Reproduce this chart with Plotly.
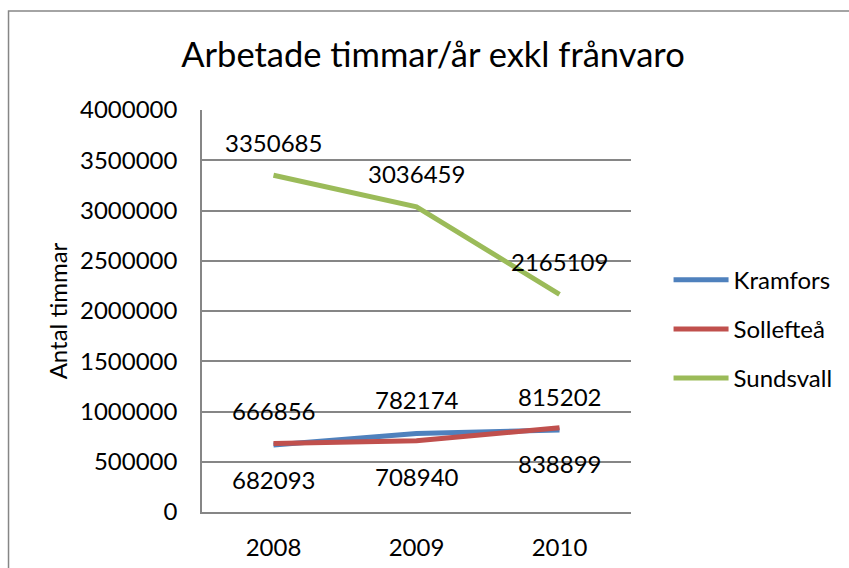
import plotly.graph_objects as go

# data
years = ["2008", "2009", "2010"]
kramfors = [666856, 782174, 815202]
solleftea = [682093, 708940, 838899]
sundsvall = [3350685, 3036459, 2165109]

series = [
    ("Kramfors", kramfors, "#4F81BD", 34),
    ("Sollefteå", solleftea, "#C0504D", -36),
    ("Sundsvall", sundsvall, "#9BBB59", 33),
]

FONT = "Lato"

fig = go.Figure()
annotations = []
for name, vals, color, shift in series:
    fig.add_trace(go.Scatter(
        name=name, x=years, y=vals, mode="lines",
        line=dict(color=color, width=5),
        legendgroup=name,
    ))
    # data labels above / below each point (category index as x)
    for i, v in enumerate(vals):
        annotations.append(dict(
            x=i, y=v, xref="x", yref="y", text=str(v), showarrow=False, yshift=shift,
            font=dict(family=FONT, size=24, color="black"),
        ))

# outer chart border
fig.add_shape(type="rect", xref="paper", yref="paper",
              x0=-0.451, x1=1.53, y0=-0.2, y1=1.2463,
              line=dict(color="#868686", width=1.5), layer="below")

fig.update_layout(
    width=849, height=568,
    margin=dict(l=202, r=217, t=110, b=56),
    paper_bgcolor="white", plot_bgcolor="white",
    title=dict(text="Arbetade timmar/år exkl frånvaro", x=0.51, xanchor="center",
               y=0.903, yanchor="middle",
               font=dict(family=FONT, size=34.5, color="black")),
    font=dict(family=FONT, size=24, color="black"),
    showlegend=True,
    legend=dict(x=1.085, y=0.455, xanchor="left", yanchor="middle",
                traceorder="grouped", tracegroupgap=15,
                font=dict(family=FONT, size=24), itemwidth=55,
                bgcolor="rgba(0,0,0,0)"),
    annotations=annotations,
)

fig.update_xaxes(
    type="category", range=[-0.5, 2.5], automargin=False,
    showline=True, linecolor="#868686", linewidth=1.5,
    showgrid=False, ticks="", ticklabelstandoff=13,
    tickfont=dict(family=FONT, size=24),
)
fig.update_yaxes(
    range=[0, 4000000], dtick=500000, tickformat="d", automargin=False,
    showline=True, linecolor="#868686", linewidth=1.5,
    showgrid=True, gridcolor="#868686", gridwidth=1.5,
    zeroline=False, ticks="", ticklabelstandoff=18,
    tickfont=dict(family=FONT, size=24),
    title=dict(text="Antal timmar", font=dict(family=FONT, size=24), standoff=6),
)

fig.write_html("out.html", config={"displayModeBar": False},
               post_script="document.body.style.margin='0';")
